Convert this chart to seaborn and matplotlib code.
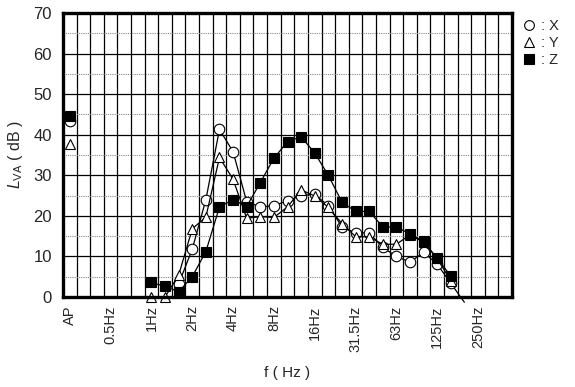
import matplotlib
matplotlib.use("Agg")
import matplotlib.pyplot as plt
import pandas as pd
import seaborn as sns
from matplotlib.lines import Line2D
from matplotlib.ticker import FixedLocator, MultipleLocator

# 1/3-octave band categories (AP = overall value)
bands = ["AP", "0.315Hz", "0.4Hz", "0.5Hz", "0.63Hz", "0.8Hz", "1Hz", "1.25Hz",
         "1.6Hz", "2Hz", "2.5Hz", "3.15Hz", "4Hz", "5Hz", "6.3Hz", "8Hz", "10Hz",
         "12.5Hz", "16Hz", "20Hz", "25Hz", "31.5Hz", "40Hz", "50Hz", "63Hz", "80Hz",
         "100Hz", "125Hz", "160Hz", "200Hz", "250Hz", "315Hz", "400Hz"]
tick_labels = ["AP", "0.5Hz", "1Hz", "2Hz", "4Hz", "8Hz", "16Hz", "31.5Hz",
               "63Hz", "125Hz", "250Hz"]

# overall (AP) values
ap_x = 43.3
ap_y = 37.8
ap_z = 44.6

# band spectra
x_bands = bands[8:30]
x_vals = [3.2, 11.8, 24.0, 41.3, 35.8, 23.5, 22.2, 22.5, 23.7, 25.0, 25.3,
          22.5, 17.3, 15.8, 15.8, 12.2, 10.0, 8.6, 11.0, 8.1, 3.4, -1.3]
y_bands = bands[6:29]
y_vals = [0.0, 0.0, 5.4, 16.8, 19.7, 34.4, 29.0, 19.4, 19.8, 19.6, 22.2, 26.4,
          24.9, 22.1, 18.1, 14.9, 14.8, 13.0, 13.0, 15.3, 13.5, 9.5, 4.0]
z_bands = bands[6:29]
z_vals = [3.6, 2.6, 1.3, 5.0, 11.2, 22.2, 24.0, 22.3, 28.2, 34.2, 38.3, 39.5,
          35.5, 30.0, 23.4, 21.1, 21.1, 17.3, 17.2, 15.6, 13.7, 9.5, 5.2]

sns.set_style("white")
plt.rcParams["font.family"] = ["Liberation Sans", "DejaVu Sans"]
plt.rcParams["mathtext.fontset"] = "custom"
plt.rcParams["mathtext.it"] = "Liberation Sans:italic"
plt.rcParams["mathtext.rm"] = "Liberation Sans"

fig = plt.figure(figsize=(5.75, 3.87), dpi=100)
ax = fig.add_axes([0.1096, 0.2326, 0.7808, 0.7338])

pos = {b: i for i, b in enumerate(bands)}


def frame(names, vals):
    return pd.DataFrame({"pos": [pos[b] for b in names], "val": vals})


MS = 7.6
common = dict(color="black", lw=0.9, markersize=MS, markeredgecolor="black",
              markeredgewidth=0.8, clip_on=False, ax=ax, legend=False)

dfx = frame(x_bands, x_vals)
sns.lineplot(data=dfx, x="pos", y="val", marker="o", markerfacecolor="white",
             markevery=list(range(len(dfx) - 1)), zorder=3, **common)
dfy = frame(y_bands, y_vals)
sns.lineplot(data=dfy, x="pos", y="val", marker="^", markerfacecolor="white",
             zorder=4, **common)
dfz = frame(z_bands, z_vals)
sns.lineplot(data=dfz, x="pos", y="val", marker="s", markerfacecolor="black",
             zorder=5, **common)

# overall values as unconnected markers
ap = pos["AP"]
ax.plot([ap], [ap_x], marker="o", ls="none", ms=MS, mfc="white", mec="black", mew=0.8, zorder=3)
ax.plot([ap], [ap_y], marker="^", ls="none", ms=MS, mfc="white", mec="black", mew=0.8, zorder=4)
ax.plot([ap], [ap_z], marker="s", ls="none", ms=MS, mfc="black", mec="black", mew=0.8, zorder=5)

ax.set_xlim(-0.5, len(bands) - 0.5)
ax.set_ylim(0, 70)

ax.xaxis.set_major_locator(FixedLocator([pos[t] for t in tick_labels]))
ax.set_xticklabels(tick_labels, rotation=90, fontsize=10.5)
ax.xaxis.set_minor_locator(FixedLocator([i + 0.5 for i in range(len(bands) - 1)]))
ax.yaxis.set_major_locator(MultipleLocator(10))
ax.yaxis.set_minor_locator(MultipleLocator(5))
ax.tick_params(axis="y", labelsize=12, pad=8)
ax.tick_params(axis="x", pad=6)
ax.tick_params(which="both", length=0)

ax.grid(False)
ax.grid(which="minor", axis="x", color="black", lw=0.9)
ax.grid(which="major", axis="y", color="black", lw=0.9)
ax.grid(which="minor", axis="y", color="#888888", lw=0.8, ls=(0, (1, 1)))
ax.set_axisbelow(True)

for s in ax.spines.values():
    s.set_linewidth(2.4)
    s.set_color("black")
    s.set_zorder(6)

ax.set_xlabel("f ( Hz )", fontsize=11, labelpad=10)
ax.set_ylabel(r"$L_{\mathrm{VA}}$ ( dB )", fontsize=11.5, labelpad=6)

handles = [
    Line2D([], [], marker="o", ls="none", ms=7, mfc="white", mec="black", mew=0.8),
    Line2D([], [], marker="^", ls="none", ms=7, mfc="white", mec="black", mew=0.8),
    Line2D([], [], marker="s", ls="none", ms=7, mfc="black", mec="black", mew=0.8),
]
fig.legend(handles, [": X", ": Y", ": Z"], loc="upper left",
           bbox_to_anchor=(0.91, 0.95), frameon=False, fontsize=10.5,
           handlelength=0.8, handletextpad=0.4, labelspacing=0.2,
           borderpad=0, borderaxespad=0)

fig.savefig("out.png", dpi=100)
